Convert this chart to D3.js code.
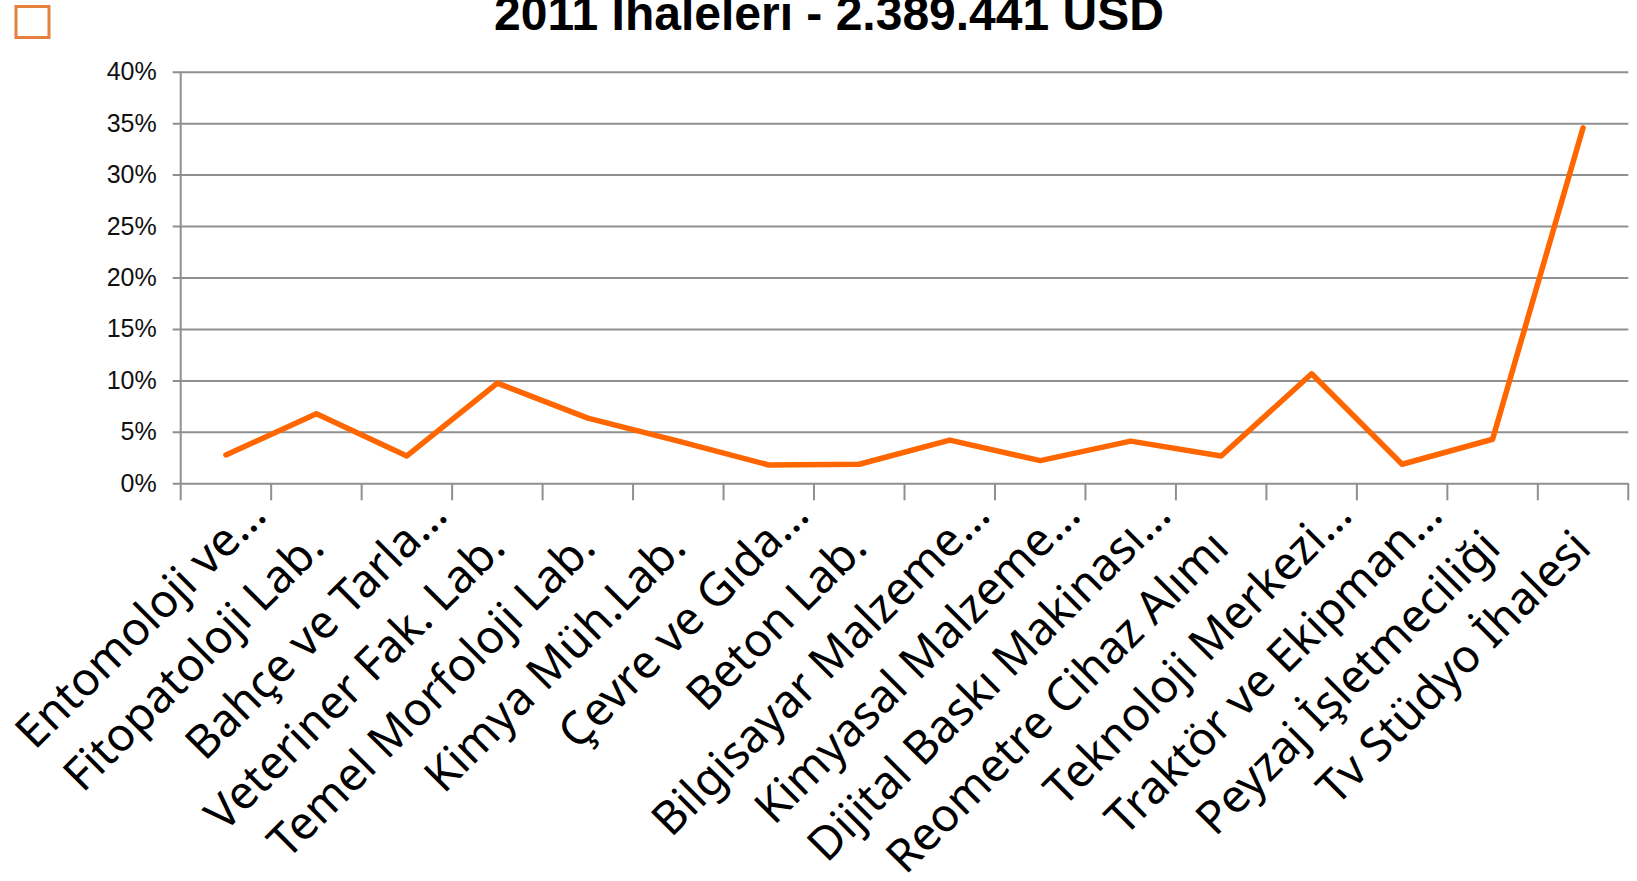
<!DOCTYPE html>
<html>
<head>
<meta charset="utf-8">
<script src="https://cdnjs.cloudflare.com/ajax/libs/d3/7.8.5/d3.min.js"></script>
<style>
  html, body { margin: 0; padding: 0; background: #fff; }
  svg { display: block; }
</style>
</head>
<body>
<svg id="chart" width="1637" height="881"></svg>
<script>
const titleText = "2011 İhaleleri - 2.389.441 USD";
const categories = [
  "Entomoloji ve…",
  "Fitopatoloji Lab.",
  "Bahçe ve Tarla…",
  "Veteriner Fak. Lab.",
  "Temel Morfoloji Lab.",
  "Kimya Müh.Lab.",
  "Çevre ve Gıda…",
  "Beton Lab.",
  "Bilgisayar Malzeme…",
  "Kimyasal Malzeme…",
  "Dijital Baskı Makinası…",
  "Reometre Cihaz Alımı",
  "Teknoloji Merkezi…",
  "Traktör ve Ekipman…",
  "Peyzaj İşletmeciliği",
  "Tv Stüdyo İhalesi"
];
const values = [2.76, 6.75, 2.66, 9.74, 6.33, 4.1, 1.78, 1.85, 4.2, 2.2, 4.1, 2.66, 10.64, 1.85, 4.28, 34.55];
const yTicks = [0, 5, 10, 15, 20, 25, 30, 35, 40];

(function () {
const svg = d3.select("#chart");
const mLeft = 180.7, mRight = 1628.3, mTop = 71.7, mBottom = 483.3;
const gridColor = "#8f8f8f";

const x = d3.scaleBand().domain(categories).range([mLeft, mRight]).padding(0);
const y = d3.scaleLinear().domain([0, 40]).range([mBottom, mTop]);

// decorative square
svg.append("rect").attr("x", 16).attr("y", 6.5).attr("width", 33).attr("height", 31)
  .attr("fill", "none").attr("stroke", "#E5803F").attr("stroke-width", 3);

// title
svg.append("text").attr("x", 829).attr("y", 30).attr("text-anchor", "middle")
  .attr("font-family", "Liberation Sans, Arial, sans-serif").attr("font-weight", "bold")
  .attr("font-size", 48).attr("fill", "#000").text(titleText);

// y axis with gridlines
const yAxis = d3.axisLeft(y).tickValues(yTicks).tickFormat(d => d + "%")
  .tickSizeInner(-(mRight - mLeft)).tickSizeOuter(0).tickPadding(24);
const yg = svg.append("g").attr("transform", `translate(${mLeft},0)`).call(yAxis);
yg.select(".domain").remove();
yg.selectAll(".tick line").attr("stroke", gridColor).attr("stroke-width", 2)
  .attr("x1", -8).attr("x2", mRight - mLeft);
yg.selectAll(".tick text").attr("font-family", "Liberation Sans, Arial, sans-serif")
  .attr("font-size", 25).attr("fill", "#111").attr("x", -24);

// vertical axis line
svg.append("line").attr("x1", mLeft).attr("x2", mLeft).attr("y1", mTop).attr("y2", mBottom + 17)
  .attr("stroke", gridColor).attr("stroke-width", 2);

// x axis tick marks at category boundaries
const boundaries = categories.map(c => x(c) + x.bandwidth());
svg.append("g").selectAll("line").data(boundaries).join("line")
  .attr("x1", d => d).attr("x2", d => d).attr("y1", mBottom).attr("y2", mBottom + 17)
  .attr("stroke", gridColor).attr("stroke-width", 2);

// x labels
const ellShift = 46;
svg.append("g").selectAll("text").data(categories).join("text")
  .attr("transform", d => {
    const cx = x(d) + x.bandwidth() / 2 + 10;
    const cy = 550;
    const s = d.endsWith("…") ? ellShift / Math.SQRT2 : 0;
    return `translate(${cx + s},${cy - s}) rotate(-45)`;
  })
  .attr("text-anchor", "end")
  .attr("font-family", "Noto Sans, Open Sans, sans-serif")
  .attr("font-size", 46).attr("fill", "#000").text(d => d);

// line
const line = d3.line().x((d, i) => x(categories[i]) + x.bandwidth() / 2).y(d => y(d));
svg.append("path").datum(values).attr("d", line).attr("fill", "none")
  .attr("stroke", "#FF6600").attr("stroke-width", 5.5).attr("stroke-linecap", "round")
  .attr("stroke-linejoin", "round");
})();
</script>
</body>
</html>
